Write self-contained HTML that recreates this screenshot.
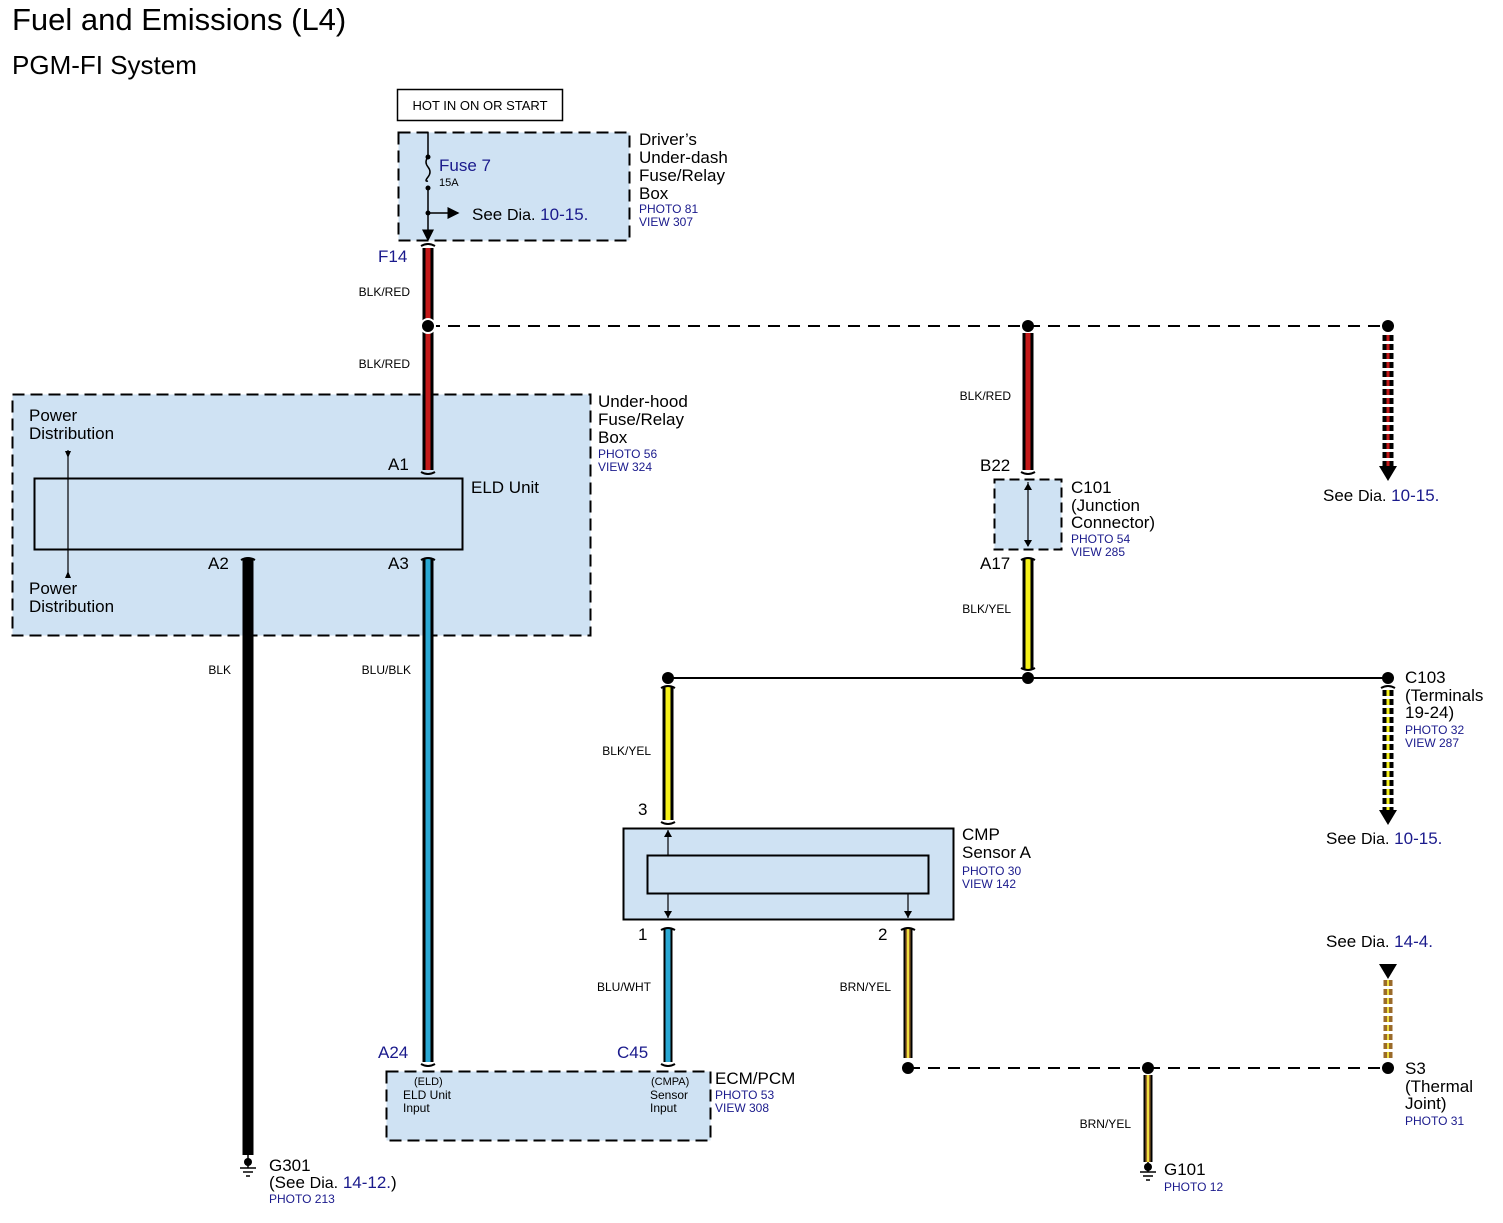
<!DOCTYPE html>
<html><head><meta charset="utf-8"><style>
html,body{margin:0;padding:0;background:#fff;}
svg{display:block;font-family:"Liberation Sans",Arial,sans-serif;}
.b{fill:#1a1a8c}
</style></head><body>
<svg width="1503" height="1223" viewBox="0 0 1503 1223">
<defs>
<marker id="ah" markerWidth="8" markerHeight="8" refX="7" refY="4" orient="auto"><path d="M0,0 L8,4 L0,8 z" fill="#000"/></marker>
</defs>
<text x="12" y="30" font-size="31">Fuel and Emissions (L4)</text>
<text x="12" y="74" font-size="26">PGM-FI System</text>

<rect x="397.5" y="89.5" width="165" height="31" fill="#fff" stroke="#000" stroke-width="1.5"/>
<text x="480" y="110" font-size="13" text-anchor="middle">HOT IN ON OR START</text>

<rect x="398.5" y="132.5" width="231" height="108" fill="#cfe2f3" stroke="#000" stroke-width="2" stroke-dasharray="12,6"/>
<line x1="428" y1="132" x2="428" y2="157" stroke="#000" stroke-width="1.5"/>
<path d="M428,157 q-4,5 0,10 q4,5 0,10 q-4,5 0,4" fill="none" stroke="#000" stroke-width="1.5"/>
<circle cx="428" cy="157" r="2.5"/><circle cx="428" cy="188" r="2.5"/>
<line x1="428" y1="186" x2="428" y2="240" stroke="#000" stroke-width="1.5" marker-end="url(#ah)"/>
<circle cx="428" cy="213" r="2.5"/>
<line x1="428" y1="213" x2="458" y2="213" stroke="#000" stroke-width="1.5" marker-end="url(#ah)"/>
<text x="439" y="171" font-size="17" class="b">Fuse 7</text>
<text x="439" y="186" font-size="11">15A</text>
<text x="472" y="220" font-size="17">See <tspan font-size="16">Dia.</tspan> <tspan class="b">10-15.</tspan></text>
<g font-size="17">
<text x="639" y="145">Driver’s</text>
<text x="639" y="163">Under-dash</text>
<text x="639" y="181">Fuse/Relay</text>
<text x="639" y="199">Box</text>
</g>
<text x="639" y="213" font-size="12" class="b">PHOTO 81</text>
<text x="639" y="226" font-size="12" class="b">VIEW 307</text>

<rect x="12.5" y="394.5" width="578" height="241" fill="#cfe2f3" stroke="#000" stroke-width="2" stroke-dasharray="12,6"/>
<rect x="34.5" y="478.5" width="428" height="71" fill="#cfe2f3" stroke="#000" stroke-width="2"/>
<line x1="68" y1="450" x2="68" y2="578" stroke="#000" stroke-width="1.2"/>
<path d="M65,451 L71,451 L68,458z M65,578 L71,578 L68,571z"/>
<g font-size="17">
<text x="29" y="421">Power</text><text x="29" y="439">Distribution</text>
<text x="29" y="594">Power</text><text x="29" y="612">Distribution</text>
<text x="471" y="493">ELD Unit</text>
<text x="388" y="470">A1</text>
<text x="208" y="569">A2</text>
<text x="388" y="569">A3</text>
<text x="598" y="407">Under-hood</text>
<text x="598" y="425">Fuse/Relay</text>
<text x="598" y="443">Box</text>
</g>
<text x="598" y="458" font-size="12" class="b">PHOTO 56</text>
<text x="598" y="471" font-size="12" class="b">VIEW 324</text>

<g stroke-linecap="butt">
<line x1="428" y1="248" x2="428" y2="470" stroke="#000" stroke-width="11"/>
<line x1="428" y1="248" x2="428" y2="470" stroke="#c41a1a" stroke-width="5"/>
<line x1="248" y1="558" x2="248" y2="1155" stroke="#000" stroke-width="11"/>
<line x1="428" y1="558" x2="428" y2="1062" stroke="#000" stroke-width="11"/>
<line x1="428" y1="558" x2="428" y2="1062" stroke="#2aa8d4" stroke-width="5"/>
<line x1="1028" y1="333" x2="1028" y2="470" stroke="#000" stroke-width="11"/>
<line x1="1028" y1="333" x2="1028" y2="470" stroke="#c41a1a" stroke-width="5"/>
<line x1="1028" y1="558" x2="1028" y2="670" stroke="#000" stroke-width="11"/>
<line x1="1028" y1="558" x2="1028" y2="670" stroke="#f5f01a" stroke-width="5"/>
<line x1="668" y1="686" x2="668" y2="820" stroke="#000" stroke-width="11"/>
<line x1="668" y1="686" x2="668" y2="820" stroke="#f5f01a" stroke-width="5"/>
<line x1="668" y1="928" x2="668" y2="1062" stroke="#000" stroke-width="9"/>
<line x1="668" y1="928" x2="668" y2="1062" stroke="#2aa8d4" stroke-width="5"/>
<line x1="908" y1="928" x2="908" y2="1058" stroke="#000" stroke-width="9"/>
<line x1="908" y1="928" x2="908" y2="1058" stroke="#9a6a2a" stroke-width="5"/>
<line x1="908" y1="928" x2="908" y2="1058" stroke="#f0e040" stroke-width="2"/>
<line x1="1148" y1="1075" x2="1148" y2="1162" stroke="#000" stroke-width="9"/>
<line x1="1148" y1="1075" x2="1148" y2="1162" stroke="#9a6a2a" stroke-width="5"/>
<line x1="1148" y1="1075" x2="1148" y2="1162" stroke="#f0e040" stroke-width="2"/>
<line x1="1388" y1="335" x2="1388" y2="466" stroke="#000" stroke-width="11" stroke-dasharray="6,3"/>
<line x1="1388" y1="335" x2="1388" y2="466" stroke="#c41a1a" stroke-width="3" stroke-dasharray="6,3"/>
<line x1="1388" y1="690" x2="1388" y2="812" stroke="#000" stroke-width="11" stroke-dasharray="6,3"/>
<line x1="1388" y1="690" x2="1388" y2="812" stroke="#f5f01a" stroke-width="3" stroke-dasharray="6,3"/>
<line x1="1388" y1="980" x2="1388" y2="1058" stroke="#9a6a2a" stroke-width="9" stroke-dasharray="6,3"/>
<line x1="1388" y1="980" x2="1388" y2="1058" stroke="#f0e040" stroke-width="2" stroke-dasharray="6,3"/>
</g>
<path d="M1379,466 L1397,466 L1388,481z"/>
<path d="M1379,810 L1397,810 L1388,825z"/>
<path d="M1379,964 L1397,964 L1388,979z"/>

<g fill="none" stroke="#000" stroke-width="2">
<path d="M421,246 q7,-4 14,0"/><path d="M421,472 q7,4 14,0"/>
<path d="M241,560 q7,-4 14,0"/><path d="M421,560 q7,-4 14,0"/>
<path d="M421,1064 q7,4 14,0"/><path d="M661,1064 q7,4 14,0"/>
<path d="M1021,472 q7,4 14,0"/><path d="M1021,560 q7,-4 14,0"/>
<path d="M1021,668 q7,4 14,0"/><path d="M661,688 q7,-4 14,0"/>
<path d="M661,822 q7,4 14,0"/><path d="M661,930 q7,-4 14,0"/>
<path d="M901,930 q7,-4 14,0"/><path d="M1381,688 q7,-4 14,0"/>
</g>

<line x1="428" y1="326" x2="1388" y2="326" stroke="#000" stroke-width="2" stroke-dasharray="12,8"/>
<line x1="668" y1="678" x2="1388" y2="678" stroke="#000" stroke-width="2"/>
<line x1="908" y1="1068" x2="1388" y2="1068" stroke="#000" stroke-width="2" stroke-dasharray="12,8"/>
<g fill="#000">
<circle cx="428" cy="326" r="7" stroke="#fff" stroke-width="2"/>
<circle cx="1028" cy="326" r="6"/><circle cx="1388" cy="326" r="6"/>
<circle cx="668" cy="678" r="6"/><circle cx="1028" cy="678" r="6"/><circle cx="1388" cy="678" r="6"/>
<circle cx="908" cy="1068" r="6"/><circle cx="1148" cy="1068" r="6"/><circle cx="1388" cy="1068" r="6"/>
</g>

<g font-size="12" text-anchor="end">
<text x="410" y="296">BLK/RED</text>
<text x="410" y="368">BLK/RED</text>
<text x="1011" y="400">BLK/RED</text>
<text x="1011" y="613">BLK/YEL</text>
<text x="231" y="674">BLK</text>
<text x="411" y="674">BLU/BLK</text>
<text x="651" y="755">BLK/YEL</text>
<text x="651" y="991">BLU/WHT</text>
<text x="891" y="991">BRN/YEL</text>
<text x="1131" y="1128">BRN/YEL</text>
</g>
<text x="378" y="262" font-size="17" class="b">F14</text>

<rect x="994.5" y="479.5" width="67" height="70" fill="#cfe2f3" stroke="#000" stroke-width="2" stroke-dasharray="10,5"/>
<line x1="1028" y1="482" x2="1028" y2="546" stroke="#000" stroke-width="1.2"/>
<path d="M1024,490 L1032,490 L1028,483z M1024,540 L1032,540 L1028,547z"/>
<g font-size="17">
<text x="980" y="471">B22</text>
<text x="980" y="569">A17</text>
<text x="1071" y="493">C101</text>
<text x="1071" y="511">(Junction</text>
<text x="1071" y="528">Connector)</text>
</g>
<text x="1071" y="543" font-size="12" class="b">PHOTO 54</text>
<text x="1071" y="556" font-size="12" class="b">VIEW 285</text>

<text x="1323" y="501" font-size="17">See <tspan font-size="16">Dia.</tspan> <tspan class="b">10-15.</tspan></text>
<g font-size="17">
<text x="1405" y="683">C103</text>
<text x="1405" y="701">(Terminals</text>
<text x="1405" y="718">19-24)</text>
</g>
<text x="1405" y="734" font-size="12" class="b">PHOTO 32</text>
<text x="1405" y="747" font-size="12" class="b">VIEW 287</text>
<text x="1326" y="844" font-size="17">See <tspan font-size="16">Dia.</tspan> <tspan class="b">10-15.</tspan></text>
<text x="1326" y="947" font-size="17">See <tspan font-size="16">Dia.</tspan> <tspan class="b">14-4.</tspan></text>
<g font-size="17">
<text x="1405" y="1074">S3</text>
<text x="1405" y="1092">(Thermal</text>
<text x="1405" y="1109">Joint)</text>
</g>
<text x="1405" y="1125" font-size="12" class="b">PHOTO 31</text>

<rect x="623.5" y="828.5" width="330" height="91" fill="#cfe2f3" stroke="#000" stroke-width="2"/>
<rect x="647.5" y="855.5" width="281" height="38" fill="#cfe2f3" stroke="#000" stroke-width="2"/>
<line x1="668" y1="830" x2="668" y2="855" stroke="#000" stroke-width="1.2"/>
<path d="M664,837 L672,837 L668,830z"/>
<line x1="668" y1="893" x2="668" y2="918" stroke="#000" stroke-width="1.2"/>
<path d="M664,911 L672,911 L668,918z"/>
<line x1="908" y1="893" x2="908" y2="918" stroke="#000" stroke-width="1.2"/>
<path d="M904,911 L912,911 L908,918z"/>
<g font-size="17">
<text x="638" y="815">3</text>
<text x="638" y="940">1</text>
<text x="878" y="940">2</text>
<text x="962" y="840">CMP</text>
<text x="962" y="858">Sensor A</text>
</g>
<text x="962" y="875" font-size="12" class="b">PHOTO 30</text>
<text x="962" y="888" font-size="12" class="b">VIEW 142</text>

<rect x="386.5" y="1071.5" width="324" height="69" fill="#cfe2f3" stroke="#000" stroke-width="2" stroke-dasharray="12,6"/>
<text x="378" y="1058" font-size="17" class="b">A24</text>
<text x="617" y="1058" font-size="17" class="b">C45</text>
<text x="414" y="1085" font-size="11">(ELD)</text>
<text x="403" y="1099" font-size="12">ELD Unit</text>
<text x="403" y="1112" font-size="12">Input</text>
<text x="651" y="1085" font-size="11">(CMPA)</text>
<text x="650" y="1099" font-size="12">Sensor</text>
<text x="650" y="1112" font-size="12">Input</text>
<text x="715" y="1084" font-size="17">ECM/PCM</text>
<text x="715" y="1099" font-size="12" class="b">PHOTO 53</text>
<text x="715" y="1112" font-size="12" class="b">VIEW 308</text>

<g stroke="#000" stroke-width="1.5">
<line x1="248" y1="1155" x2="248" y2="1168"/>
<line x1="240" y1="1168" x2="256" y2="1168"/><line x1="243" y1="1172" x2="253" y2="1172"/><line x1="246" y1="1176" x2="250" y2="1176"/>
<line x1="1148" y1="1162" x2="1148" y2="1172"/>
<line x1="1140" y1="1172" x2="1156" y2="1172"/><line x1="1143" y1="1176" x2="1153" y2="1176"/><line x1="1146" y1="1180" x2="1150" y2="1180"/>
</g>
<circle cx="248" cy="1162" r="4"/><circle cx="1148" cy="1167" r="4"/>
<text x="269" y="1171" font-size="17">G301</text>
<text x="269" y="1188" font-size="17">(See <tspan font-size="16">Dia.</tspan> <tspan class="b">14-12.</tspan>)</text>
<text x="269" y="1203" font-size="12" class="b">PHOTO 213</text>
<text x="1164" y="1175" font-size="17">G101</text>
<text x="1164" y="1191" font-size="12" class="b">PHOTO 12</text>
</svg>
</body></html>
